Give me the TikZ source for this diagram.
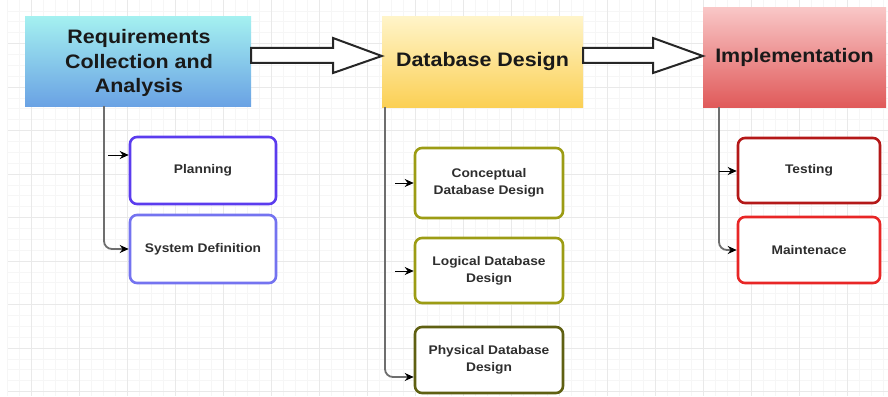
\documentclass[tikz,border=0pt]{standalone}
\usepackage{fontspec}
\setmainfont{Liberation Sans}[FakeStretch=1.1]
\usetikzlibrary{arrows.meta,calc}

\definecolor{reqtop}{HTML}{A4F0F0}
\definecolor{reqbot}{HTML}{6AA2E4}
\definecolor{dbtop}{HTML}{FFF4C8}
\definecolor{dbbot}{HTML}{FBD055}
\definecolor{imtop}{HTML}{F9C6C6}
\definecolor{imbot}{HTML}{E05A5A}
\definecolor{planc}{HTML}{5B3CEE}
\definecolor{sysc}{HTML}{7473F0}
\definecolor{olive}{HTML}{9C9C14}
\definecolor{darkolive}{HTML}{5F6012}
\definecolor{testc}{HTML}{B41818}
\definecolor{maintc}{HTML}{E82626}
\definecolor{gridmaj}{HTML}{E9E9E9}
\definecolor{gridmin}{HTML}{F6F6F6}
\definecolor{trunkc}{HTML}{6E6E6E}
\definecolor{txt}{HTML}{2E2E2E}

\tikzset{
  stage/.style={inner sep=0pt, align=center, text=black!90,
    font=\fontsize{19.5}{24.5}\selectfont\bfseries},
  task/.style={draw, line width=2.6pt, rounded corners=7pt, fill=white,
    inner sep=0pt, align=center, text=txt,
    font=\fontsize{12.5}{17}\selectfont\bfseries},
  blockarrow/.style={draw=black!85, line width=2pt, fill=white, line join=miter},
  trunk/.style={draw=trunkc, line width=1.8pt, rounded corners=8pt,
    -{Stealth[length=9pt,width=8pt,black]}},
  twig/.style={draw=black, line width=1pt, -{Stealth[length=9pt,width=8pt,black]}},
}

\begin{document}
\begin{tikzpicture}[x=1pt,y=-1pt]
\useasboundingbox (0,0) rectangle (888,396);
\fill[white] (0,0) rectangle (888,396);

% background grid
\foreach \x in {7,19,...,887} \draw[gridmin, line width=0.6pt] (\x,0) -- (\x,396);
\foreach \i in {1,...,36} \draw[gridmin, line width=0.6pt] (8,{\i*10.875}) -- (888,{\i*10.875});
\foreach \x in {31,79,...,887} \draw[gridmaj, line width=0.8pt] (\x,0) -- (\x,396);
\foreach \i in {1,...,9} \draw[gridmaj, line width=0.8pt] (8,{\i*43.5}) -- (888,{\i*43.5});

% phases
\node[stage, minimum width=226pt, minimum height=89pt, top color=reqtop, bottom color=reqbot]
  (req) at (138,61.5) {};
\node[stage] (reqtext) at (139,63) {Requirements\\Collection and\\Analysis};
\node[stage, minimum width=201pt, minimum height=90pt, top color=dbtop, bottom color=dbbot]
  (db) at (482.5,62) {Database Design};
\node[stage, minimum width=183pt, minimum height=99pt, top color=imtop, bottom color=imbot]
  (impl) at (794.5,57.5) {Implementation};

% activities
\node[task, draw=planc, minimum width=146pt, minimum height=67pt] (plan) at (203,170.5) {Planning};
\node[task, draw=sysc, minimum width=146pt, minimum height=68pt] (sysdef) at (203,249) {System Definition};
\node[task, draw=olive, minimum width=148pt, minimum height=70pt] (concept) at (489,183) {Conceptual\\Database Design};
\node[task, draw=olive, minimum width=148pt, minimum height=65pt] (logi) at (489,270.5) {Logical Database\\Design};
\node[task, draw=darkolive, minimum width=148pt, minimum height=66pt] (phys) at (489,360) {Physical Database\\Design};
\node[task, draw=testc, minimum width=142pt, minimum height=65pt] (test) at (809,170.5) {Testing};
\node[task, draw=maintc, minimum width=142pt, minimum height=66pt] (maint) at (809,250) {Maintenace};

% block arrows between phases
\coordinate (s1) at (0,48);  \coordinate (s2) at (0,63);
\coordinate (tp) at (0,56);
\draw[blockarrow] (req.east |- s1) -- (333,48) -- (333,38) -- (db.west |- tp)
  -- (333,73) -- (333,63) -- (req.east |- s2) -- cycle;
\draw[blockarrow] (db.east |- s1) -- (653,48) -- (653,38) -- (impl.west |- tp)
  -- (653,73) -- (653,63) -- (db.east |- s2) -- cycle;

% trunks
\coordinate (ra) at (104,0);
\coordinate (da) at (385,0);
\coordinate (ia) at (719,0);
\coordinate (pha) at (0,377);
\draw[trunk] (req.south -| ra) |- (sysdef.west);
\draw[trunk] (db.south -| da) |- (phys.west |- pha);
\draw[trunk] (impl.south -| ia) |- (maint.west);

% short arrows
\coordinate (pa) at (108,155);
\coordinate (ca) at (395,183);
\coordinate (la) at (395,271);
\coordinate (ta) at (719,171);
\draw[twig] (pa) -- (pa -| plan.west);
\draw[twig] (ca) -- (ca -| concept.west);
\draw[twig] (la) -- (la -| logi.west);
\draw[twig] (ta) -- (ta -| test.west);
\end{tikzpicture}
\end{document}
